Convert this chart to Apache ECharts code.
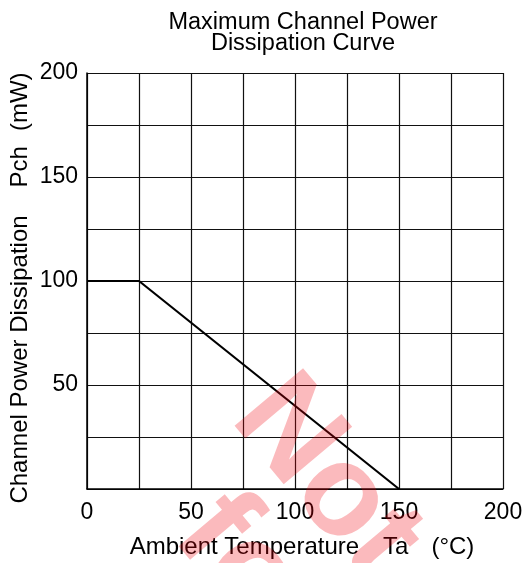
<!DOCTYPE html>
<html>
<head>
<meta charset="utf-8">
<script src="https://cdn.jsdelivr.net/npm/echarts@6/dist/echarts.min.js"></script>
<style>html,body{margin:0;padding:0;background:#fff;}#c{width:527px;height:563px;}</style>
</head>
<body>
<div id="c"></div>
<script>
var temperature = [0, 25, 150];
var power = [100, 100, 0];
var xTicks = [0, 50, 100, 150, 200];
var yTicks = [50, 100, 150, 200];

var chart = echarts.init(document.getElementById('c'));
var font = 'Liberation Sans, Arial, sans-serif';
chart.setOption({
  animation: false,
  backgroundColor: '#fff',
  title: {
    text: 'Maximum Channel Power\nDissipation Curve',
    left: 298, top: 7, textAlign: 'center',
    textStyle: {fontFamily: font, fontSize: 23.5, fontWeight: 'normal', color: '#000', lineHeight: 21}
  },
  grid: {left: 87, right: 24, top: 73, bottom: 74, containLabel: false, outerBoundsMode: 'none'},
  xAxis: {
    type: 'value', min: 0, max: 200, interval: 25,
    name: '{a|Ambient Temperature}{b|Ta}{c|(\u00B0C)}',
    nameLocation: 'middle', nameGap: 46,
    nameTextStyle: {fontFamily: font, fontSize: 24, color: '#000',
      rich: {
        a: {fontFamily: font, fontSize: 24, color: '#000', padding: [0, 0, 0, 14]},
        b: {fontFamily: font, fontSize: 24, color: '#000', padding: [0, 0, 0, 24]},
        c: {fontFamily: font, fontSize: 24, color: '#000', padding: [0, 0, 0, 23]}
      }},
    axisLine: {lineStyle: {color: '#000', width: 1.5}},
    axisTick: {show: false},
    axisLabel: {fontFamily: font, fontSize: 23, color: '#000', margin: 12,
      formatter: function (v) { return xTicks.indexOf(v) >= 0 ? String(v) : ''; }},
    splitLine: {show: true, lineStyle: {color: '#111', width: 1.2}}
  },
  yAxis: {
    type: 'value', min: 0, max: 200, interval: 25,
    name: '{a|Channel Power Dissipation}{b|Pch}{c|(mW)}',
    nameLocation: 'middle', nameGap: 55, nameMoveOverlap: false,
    nameTextStyle: {fontFamily: font, fontSize: 24, color: '#000',
      rich: {
        a: {fontFamily: font, fontSize: 24, color: '#000'},
        b: {fontFamily: font, fontSize: 24, color: '#000', padding: [0, 0, 0, 28]},
        c: {fontFamily: font, fontSize: 24, color: '#000', padding: [0, 14, 0, 15]}
      }},
    axisLine: {show: true, lineStyle: {color: '#000', width: 1.5}},
    axisTick: {show: false},
    axisLabel: {fontFamily: font, fontSize: 23, color: '#000', margin: 9,
      formatter: function (v) { return yTicks.indexOf(v) >= 0 ? String(v) : ''; }},
    splitLine: {show: true, lineStyle: {color: '#111', width: 1.2}}
  },
  series: [{
    type: 'line',
    data: temperature.map(function (t, i) { return [t, power[i]]; }),
    symbol: 'none',
    lineStyle: {color: '#000', width: 2.2}
  }],
  graphic: [
    {type: 'text', x: 326, y: 479, rotation: -50 * Math.PI / 180, z: 100,
      style: {text: 'Not', font: 'bold 130px Liberation Sans, Arial', fill: 'rgba(240,0,10,0.27)', textAlign: 'center', textVerticalAlign: 'middle'}},
    {type: 'text', x: 254, y: 580, rotation: -50 * Math.PI / 180, z: 100,
      style: {text: 'for', font: 'bold 130px Liberation Sans, Arial', fill: 'rgba(240,0,10,0.27)', textAlign: 'center', textVerticalAlign: 'middle'}}
  ]
});
</script>
</body>
</html>
